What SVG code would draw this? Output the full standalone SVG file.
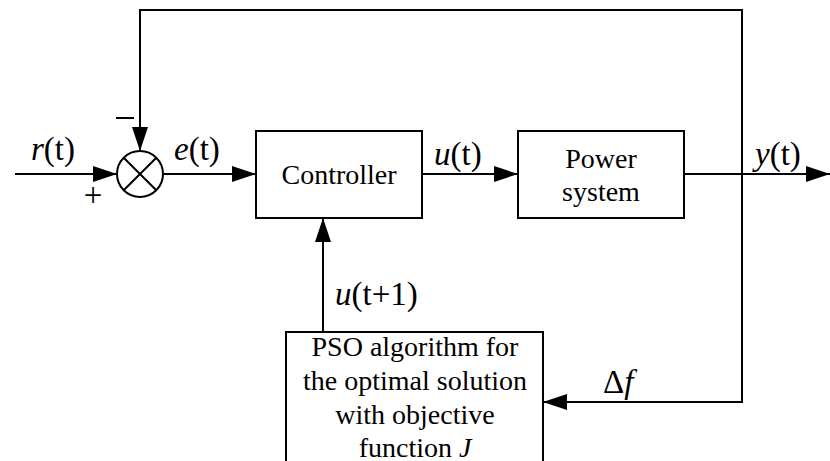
<svg xmlns="http://www.w3.org/2000/svg" width="830" height="461" viewBox="0 0 830 461">
  <style>
    .box { fill: #fff; stroke: #000; stroke-width: 2; }
    .wire { fill: none; stroke: #000; stroke-width: 2; }
    .t { font-family: "Liberation Serif", "Times New Roman", serif; font-size: 28px; fill: #000; text-anchor: middle; }
    .lbl { font-family: "Liberation Serif", "Times New Roman", serif; font-size: 33px; fill: #000; }
    .i { font-style: italic; }
  </style>
  <defs>
    <marker id="arrow" markerWidth="24" markerHeight="16" refX="24" refY="8" orient="auto" markerUnits="userSpaceOnUse">
      <path d="M0,0 L24,8 L0,16 Z" fill="#000"/>
    </marker>
  </defs>

  <g id="connectors">
    <!-- reference input r(t) -->
    <line class="wire" x1="15" y1="174" x2="117" y2="174" marker-end="url(#arrow)"/>
    <!-- error e(t) into controller -->
    <line class="wire" x1="164" y1="174" x2="256" y2="174" marker-end="url(#arrow)"/>
    <!-- control u(t) into plant -->
    <line class="wire" x1="422" y1="174" x2="518" y2="174" marker-end="url(#arrow)"/>
    <!-- output y(t) -->
    <line class="wire" x1="684" y1="174" x2="830" y2="174" marker-end="url(#arrow)"/>
    <!-- negative feedback loop -->
    <polyline class="wire" points="742,403 742,10 140,10 140,151" marker-end="url(#arrow)"/>
    <!-- frequency deviation to optimiser -->
    <line class="wire" x1="743" y1="402" x2="543" y2="402" marker-end="url(#arrow)"/>
    <!-- optimiser output to controller -->
    <line class="wire" x1="323" y1="332" x2="323" y2="218" marker-end="url(#arrow)"/>
  </g>

  <g id="sum">
    <circle cx="140" cy="174" r="23" fill="#fff" stroke="#000" stroke-width="2"/>
    <line class="wire" x1="123.7" y1="157.7" x2="156.3" y2="190.3"/>
    <line class="wire" x1="156.3" y1="157.7" x2="123.7" y2="190.3"/>
    <text class="lbl" x="93" y="206" text-anchor="middle" font-size="28">+</text>
    <line class="wire" x1="116" y1="118" x2="134" y2="118"/>
  </g>

  <g id="controller">
    <rect class="box" x="256" y="131" width="166" height="87"/>
    <text class="t" x="339" y="184">Controller</text>
  </g>

  <g id="power-system">
    <rect class="box" x="518" y="131" width="166" height="87"/>
    <text class="t" x="601" y="168">Power</text>
    <text class="t" x="601" y="201">system</text>
  </g>

  <g id="pso">
    <rect class="box" x="286" y="332" width="257" height="140"/>
    <text class="t" x="415" y="356">PSO algorithm for</text>
    <text class="t" x="415" y="390">the optimal solution</text>
    <text class="t" x="415" y="424">with objective</text>
    <text class="t" x="415" y="457">function <tspan class="i">J</tspan></text>
  </g>

  <g id="labels">
    <text class="lbl" x="31" y="160"><tspan class="i">r</tspan>(t)</text>
    <text class="lbl" x="174" y="160"><tspan class="i">e</tspan>(t)</text>
    <text class="lbl" x="434" y="165"><tspan class="i">u</tspan>(t)</text>
    <text class="lbl" x="755" y="165"><tspan class="i">y</tspan>(t)</text>
    <text class="lbl" x="335" y="305"><tspan class="i">u</tspan>(t+1)</text>
    <text class="lbl" x="603" y="393">Δ<tspan class="i">f</tspan></text>
  </g>
</svg>
